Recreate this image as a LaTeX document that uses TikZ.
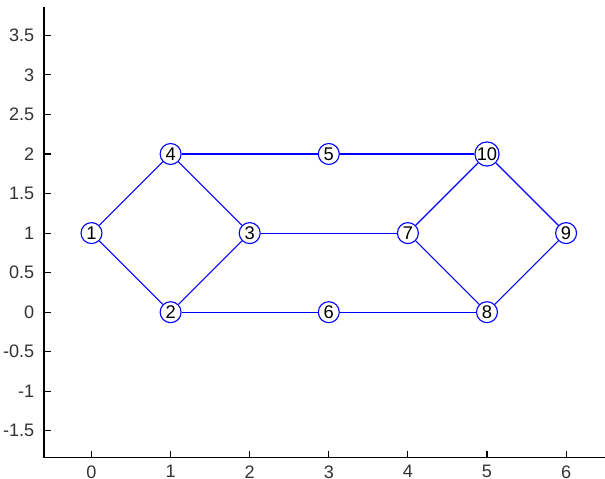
\documentclass[tikz,border=0pt]{standalone}
\usepackage{fontspec}
\setmainfont{Liberation Sans}
\usepackage{tikz}

\begin{document}
\begin{tikzpicture}[knoten/.style={circle,draw=blue,fill=white,line width=0.4pt,inner sep=0pt,minimum size=0.265cm,font=\fontsize{6.6}{7}\selectfont},
  tick/.style={font=\fontsize{6.5}{7}\selectfont,text=black!80}]
  \useasboundingbox (-1.157,-2.106) rectangle (6.492,3.947);
  % Achsen
  \draw[line width=0.4pt] (-0.6,3.855) -- (-0.6,-1.84) -- (6.5,-1.84);
  \foreach \y in {-1.5,-1,-0.5,0,0.5,1,1.5,2,2.5,3,3.5}
    \draw[line width=0.4pt] (-0.6,\y) node[tick,anchor=east] {\y} -- ++(0.088,0);
  \foreach \x in {0,...,6}
    \draw[line width=0.4pt] (\x,-1.84) node[tick,anchor=north,inner sep=0pt,yshift=-0.09cm] {\x} -- ++(0,0.088);
  % Graph
  \draw node[knoten] (v1) at (0,1) {1}
    node[knoten] (v2) at (1,0) {2}
    node[knoten] (v3) at (2,1) {3}
    node[knoten] (v4) at (1,2) {4}
    node[knoten] (v5) at (3,2) {5}
    node[knoten] (v6) at (3,0) {6}
    node[knoten] (v7) at (4,1) {7}
    node[knoten] (v8) at (5,0) {8}
    node[knoten] (v9) at (6,1) {9}
    node[knoten] (v10) at (5,2) {10};
  \path[blue,line width=0.4pt]
    (v1) edge (v4)
    edge (v2)
    (v4) edge (v5)
    edge (v3)
    (v5) edge (v10)
    (v2) edge (v3)
    edge (v6)
    (v6) edge (v8)
    (v3) edge (v7)
    (v7) edge (v10)
    edge (v8)
    (v10) edge (v9)
    (v8) edge (v9);
\end{tikzpicture}
\end{document}
